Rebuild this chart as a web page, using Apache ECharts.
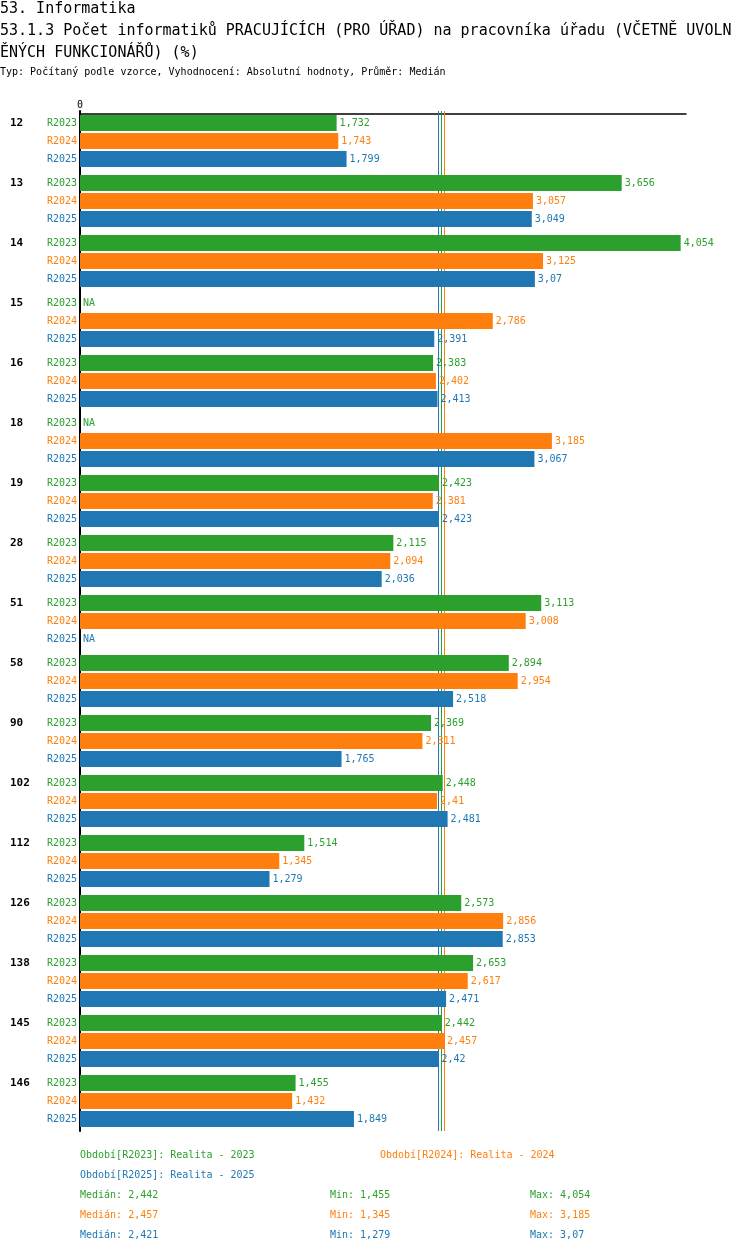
<!DOCTYPE html>
<html>
<head>
<meta charset="utf-8">
<script src="https://cdn.jsdelivr.net/npm/echarts@6/dist/echarts.min.js"></script>
<style>
html,body{margin:0;padding:0;background:#fff;}
#c{width:750px;height:1254px;}
</style>
</head>
<body>
<div id="c"></div>
<script>
const categories = ['12','13','14','15','16','18','19','28','51','58','90','102','112','126','138','145','146'];
const r2023 = [1.732,3.656,4.054,null,2.383,null,2.423,2.115,3.113,2.894,2.369,2.448,1.514,2.573,2.653,2.442,1.455];
const r2024 = [1.743,3.057,3.125,2.786,2.402,3.185,2.381,2.094,3.008,2.954,2.311,2.41,1.345,2.856,2.617,2.457,1.432];
const r2025 = [1.799,3.049,3.07,2.391,2.413,3.067,2.423,2.036,null,2.518,1.765,2.481,1.279,2.853,2.471,2.42,1.849];
const seriesNames = ['R2023','R2024','R2025'];
const legendTexts = ['Období[R2023]: Realita - 2023','Období[R2024]: Realita - 2024','Období[R2025]: Realita - 2025'];
const medians = [2.442,2.457,2.421];
const mins = [1.455,1.345,1.279];
const maxs = [4.054,3.185,3.07];
const titleLines = ['53. Informatika','53.1.3 Počet informatiků PRACUJÍCÍCH (PRO ÚŘAD) na pracovníka úřadu (VČETNĚ UVOLN','ĚNÝCH FUNKCIONÁŘŮ) (%)'];
const subtitle = 'Typ: Počítaný podle vzorce, Vyhodnocení: Absolutní hodnoty, Průměr: Medián';

const colors = ['#2ca02c','#ff7f0e','#1f77b4'];
const FONT = 'DejaVu Sans Mono';
const fmt = v => String(v).replace('.', ',');
const allData = [r2023, r2024, r2025];

const series = [];
seriesNames.forEach((name, i) => {
  series.push({
    name: name + '_lbl',
    type: 'bar',
    stack: 's' + i,
    barWidth: 16,
    barGap: '12.5%',
    z: 3,
    data: categories.map(() => 0),
    itemStyle: {color: colors[i]},
    label: {show: true, position: 'left', distance: 3, formatter: name,
            color: colors[i], fontFamily: FONT, fontSize: 10},
    silent: true
  });
  series.push({
    name: name,
    type: 'bar',
    stack: 's' + i,
    barWidth: 16,
    barGap: '12.5%',
    z: 3,
    data: allData[i].map(v => v == null ? {value: 0, label: {formatter: 'NA'}} : v),
    itemStyle: {color: colors[i]},
    label: {show: true, position: 'right', distance: 3,
            formatter: p => fmt(p.value),
            color: colors[i], fontFamily: FONT, fontSize: 10},
    markLine: {
      silent: true, symbol: 'none', animation: false, z: 1,
      label: {show: false},
      lineStyle: {color: colors[i], width: 1, type: 'solid'},
      data: [{xAxis: medians[i]}]
    }
  });
});

const graphics = [];
const tTop = [2, 24, 46];
titleLines.forEach((t, k) => {
  graphics.push({type: 'text', left: 0, top: tTop[k],
    style: {text: t, font: '15px "' + FONT + '"', fill: '#000'}});
});
graphics.push({type: 'text', left: 0, top: 67,
  style: {text: subtitle, font: '10px "' + FONT + '"', fill: '#000'}});
const legPos = [[80,1156],[380,1156],[80,1176]];
legendTexts.forEach((t, i) => {
  graphics.push({type: 'text', left: legPos[i][0], top: legPos[i][1] - 6,
    style: {text: t, font: '10px "' + FONT + '"', fill: colors[i]}});
});
seriesNames.forEach((n, i) => {
  const y = 1196 + i * 20 - 6;
  graphics.push({type: 'text', left: 80, top: y, style: {text: 'Medián: ' + fmt(medians[i]), font: '10px "' + FONT + '"', fill: colors[i]}});
  graphics.push({type: 'text', left: 330, top: y, style: {text: 'Min: ' + fmt(mins[i]), font: '10px "' + FONT + '"', fill: colors[i]}});
  graphics.push({type: 'text', left: 530, top: y, style: {text: 'Max: ' + fmt(maxs[i]), font: '10px "' + FONT + '"', fill: colors[i]}});
});

const chart = echarts.init(document.getElementById('c'));
chart.setOption({
  animation: false,
  backgroundColor: '#fff',
  grid: {left: 80, right: 64, top: 111, height: 1020, containLabel: false},
  xAxis: {
    type: 'value', position: 'top', min: 0, max: 4.09, interval: 10, offset: -3,
    axisLine: {show: true, lineStyle: {color: '#000', width: 1.5}},
    axisTick: {show: false},
    splitLine: {show: false},
    axisLabel: {show: true, showMaxLabel: false, margin: 4, formatter: v => v === 0 ? '0' : '',
                color: '#000', fontFamily: FONT, fontSize: 10}
  },
  yAxis: {
    type: 'category', inverse: true, data: categories,
    axisLine: {show: true, lineStyle: {color: '#000', width: 2}},
    axisTick: {show: false},
    axisLabel: {show: true, align: 'left', margin: 70, lineHeight: 18,
                formatter: v => v + '\n\n',
                color: '#000', fontWeight: 'bold', fontFamily: FONT, fontSize: 11}
  },
  graphic: graphics,
  series: series
});
</script>
</body>
</html>
